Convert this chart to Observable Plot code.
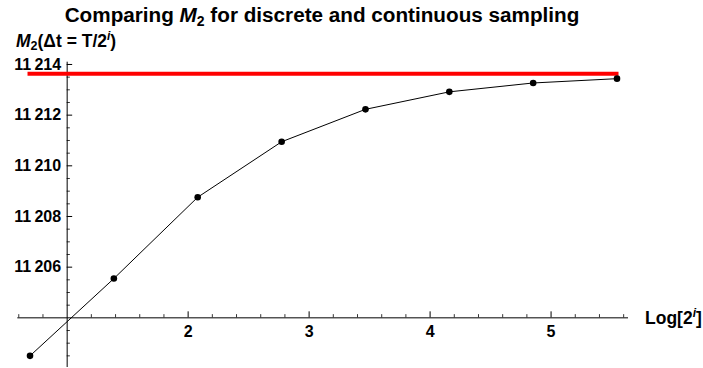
<!DOCTYPE html>
<html><head><meta charset="utf-8">
<script src="https://cdn.jsdelivr.net/npm/d3@7"></script>
<script src="https://cdn.jsdelivr.net/npm/@observablehq/plot@0.6"></script>
<style>
body{margin:0;background:#fff;}
#chart svg{display:block;}
</style>
</head><body><div id="chart"></div>
<script>
// Data
const logValues = [0.693, 1.386, 2.079, 2.773, 3.466, 4.159, 4.852, 5.545]; // Log[2^i], i = 1..8
const m2Discrete = [11202.50, 11205.55, 11208.76, 11210.95, 11212.23, 11212.92, 11213.27, 11213.44];
const m2Continuous = [11213.63];
const xMajorTicks = [2, 3, 4, 5];
const yMajorTicks = [11206, 11208, 11210, 11212, 11214];
const xOrigin = [1];
const yOrigin = [11204];

const xDomain = [0.592, 5.64];
const yDomain = [11202.04, 11214.09];

const points = logValues.map((x, k) => ({x, y: m2Discrete[k]}));
const xMinorTicks = d3.range(6, 57, 2).map(v => v / 10).filter(v => !xMajorTicks.includes(v) && v !== 1);
const yMinor = d3.range(0, 24).map(k => 11202.5 + k * 0.5).filter(v => !yMajorTicks.includes(v) && v !== 11204 && v <= 11214);

const fmt = v => { const s = String(v); return s.slice(0, 2) + "\u2009" + s.slice(2); };

const FONT = "'Liberation Sans', Arial, sans-serif";
const pxX = (xDomain[1] - xDomain[0]) / (703 - 17.3 - 75); // data units per px
const pxY = (yDomain[1] - yDomain[0]) / (368 - 61.7 - 1);

const chart = Plot.plot({
  width: 703, height: 368,
  marginLeft: 17.3, marginRight: 75, marginTop: 61.7, marginBottom: 1,
  x: {domain: xDomain, axis: null},
  y: {domain: yDomain, axis: null},
  style: {fontFamily: FONT, background: "#fff", color: "#000"},
  marks: [
    Plot.ruleY(yOrigin, {x1: xDomain[0], x2: xDomain[1], stroke: "#000", strokeWidth: 1}),
    Plot.ruleX(xOrigin, {y1: yDomain[0], y2: yDomain[1], stroke: "#000", strokeWidth: 1}),
    Plot.ruleX(xMajorTicks, {y1: yOrigin[0], y2: yOrigin[0] + 6 * pxY, stroke: "#000", strokeWidth: 1}),
    Plot.ruleX(xMinorTicks, {y1: yOrigin[0], y2: yOrigin[0] + 3.2 * pxY, stroke: "#000", strokeWidth: 0.8}),
    Plot.ruleY(yMajorTicks, {x1: xOrigin[0], x2: xOrigin[0] + 5.5 * pxX, stroke: "#000", strokeWidth: 1}),
    Plot.ruleY(yMinor, {x1: xOrigin[0], x2: xOrigin[0] + 3.2 * pxX, stroke: "#000", strokeWidth: 0.8}),
    Plot.text(yMajorTicks, {x: xOrigin[0], y: d => d, text: fmt, textAnchor: "end", dx: -6, fontSize: 16, fontWeight: "bold", fill: "#000"}),
    Plot.text(xMajorTicks, {x: d => d, y: yOrigin[0], text: d => String(d), dy: 14.5, fontSize: 16, fontWeight: "bold", fill: "#000"}),
    Plot.ruleY(m2Continuous, {x1: logValues[0], x2: logValues[logValues.length - 1], stroke: "#ff0000", strokeWidth: 4, strokeLinecap: "square"}),
    Plot.line(points, {x: "x", y: "y", stroke: "#000", strokeWidth: 1}),
    Plot.dot(points, {x: "x", y: "y", r: 3.3, fill: "#000", stroke: "none"})
  ]
});

const svg = d3.select(chart);
const sx = chart.scale("x"), sy = chart.scale("y");

// Title
const title = svg.append("text")
  .attr("x", 322).attr("y", 22)
  .attr("text-anchor", "middle").attr("font-family", FONT)
  .attr("font-size", 20.7).attr("font-weight", "bold").attr("fill", "#000");
title.append("tspan").text("Comparing ");
title.append("tspan").attr("font-style", "italic").text("M");
title.append("tspan").attr("font-size", 14).attr("dy", 4).text("2");
title.append("tspan").attr("dy", -4).text(" for discrete and continuous sampling");

// Y axis label
const ylab = svg.append("text")
  .attr("x", 16).attr("y", 46.5)
  .attr("text-anchor", "start").attr("font-family", FONT)
  .attr("font-size", 17.5).attr("font-weight", "bold").attr("fill", "#000");
ylab.append("tspan").attr("font-style", "italic").text("M");
ylab.append("tspan").attr("font-size", 12.5).attr("dy", 3).text("2");
ylab.append("tspan").attr("dy", -3).text("(\u0394t = T/2");
ylab.append("tspan").attr("font-size", 12).attr("font-style", "italic").attr("dy", -7).text("i");
ylab.append("tspan").attr("dy", 7).text(")");

// X axis label
const xlab = svg.append("text")
  .attr("x", sx.apply(xDomain[1]) + 17).attr("y", sy.apply(yOrigin[0]) + 6.5)
  .attr("text-anchor", "start").attr("font-family", FONT)
  .attr("font-size", 17.5).attr("font-weight", "bold").attr("fill", "#000");
xlab.append("tspan").text("Log[2");
xlab.append("tspan").attr("font-size", 12).attr("font-style", "italic").attr("dy", -7).text("i");
xlab.append("tspan").attr("dy", 7).text("]");

document.getElementById("chart").appendChild(chart);
</script>
</body></html>
